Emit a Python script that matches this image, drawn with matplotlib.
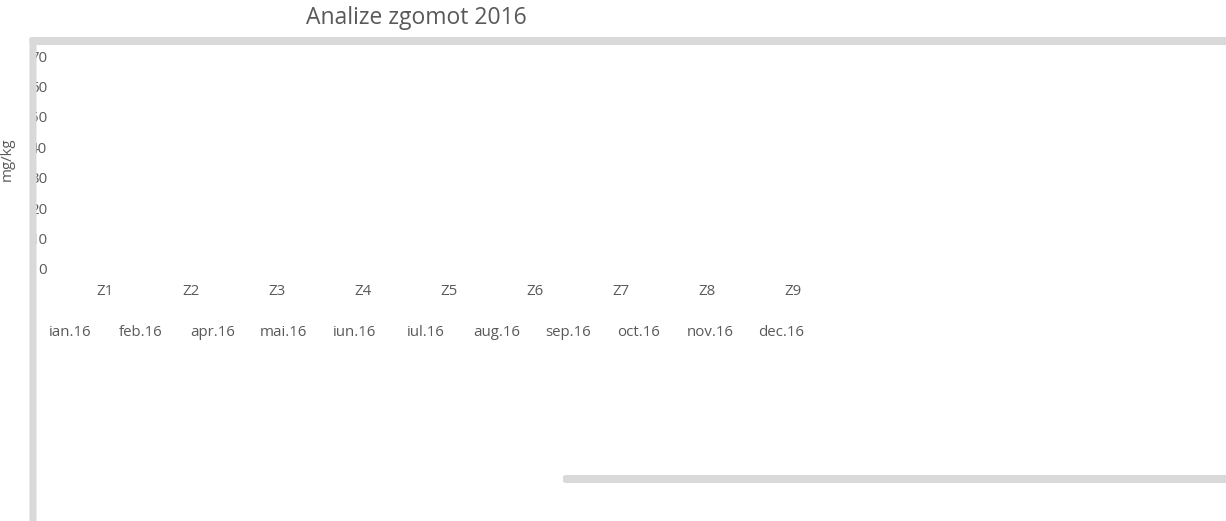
import matplotlib.pyplot as plt
from matplotlib.patches import FancyBboxPatch

# Date (graficul nu are valori, doar categorii)
zone = ["Z1", "Z2", "Z3", "Z4", "Z5", "Z6", "Z7", "Z8", "Z9"]
luni = ["ian.16", "feb.16", "apr.16", "mai.16", "iun.16", "iul.16",
        "aug.16", "sep.16", "oct.16", "nov.16", "dec.16"]
y_ticks = [0, 10, 20, 30, 40, 50, 60, 70]

W, H = 1226, 521
text_col = "#595959"
bar_col = "#d9d9d9"
plt.rcParams["font.family"] = ["Open Sans", "DejaVu Sans"]

fig = plt.figure(figsize=(W / 100, H / 100), dpi=100)


def px_box(x0, y0, x1, y1):
    # pixeli (sus-stanga) -> coordonate figura
    return [x0 / W, 1 - y1 / H, (x1 - x0) / W, (y1 - y0) / H]


# axa principala: zonele Z1..Z9
ax = fig.add_axes(px_box(62, 56, 836, 269))
ax.set_xlim(0, len(zone))
ax.set_ylim(0, 70)
ax.set_xticks([i + 0.5 for i in range(len(zone))])
ax.set_xticklabels(zone)
ax.set_yticks(y_ticks)
ax.tick_params(length=0, colors=text_col, labelsize=10.8)
ax.tick_params(axis="x", pad=11)
ax.tick_params(axis="y", pad=10.6)
for s in ax.spines.values():
    s.set_visible(False)
ax.set_ylabel("mg/kg", color=text_col, fontsize=10.8)
ax.yaxis.set_label_coords((15 - 62) / 774, (269 - 159) / 213)

# a doua axa: lunile
ax2 = fig.add_axes(px_box(34.5, 56, 816.5, 269), facecolor="none")
ax2.set_xlim(0, len(luni))
ax2.set_xticks([i + 0.5 for i in range(len(luni))])
ax2.set_xticklabels(luni)
ax2.set_yticks([])
ax2.tick_params(length=0, colors=text_col, labelsize=10.8, pad=40)
for s in ax2.spines.values():
    s.set_visible(False)

fig.text(416 / W, 1 - 18 / H, "Analize zgomot 2016", ha="center", va="center",
         color=text_col, fontsize=16.5)

# benzile gri (chenar / bara de derulare)
for x0, y0, x1, y1 in [(29.5, 37, 1240, 45), (29.5, 37, 36.5, 540), (563, 475, 1240, 483)]:
    fig.patches.append(FancyBboxPatch(
        (x0 / W, 1 - y1 / H), (x1 - x0) / W, (y1 - y0) / H,
        boxstyle="round,pad=0,rounding_size=0.003", transform=fig.transFigure,
        facecolor=bar_col, edgecolor="none", zorder=5))

fig.savefig("out.png", dpi=100)
